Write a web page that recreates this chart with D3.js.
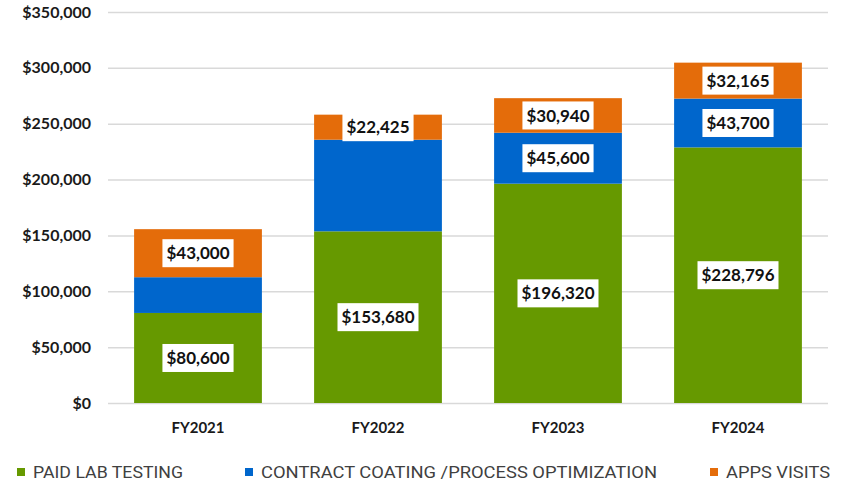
<!DOCTYPE html>
<html>
<head>
<meta charset="utf-8">
<script src="https://cdn.jsdelivr.net/npm/d3@7"></script>
<style>
  body { margin: 0; background: #fff; }
  svg { display: block; }
</style>
</head>
<body>
<div id="chart"></div>
<script>
var years = ['FY2021', 'FY2022', 'FY2023', 'FY2024'];
var seriesNames = ['PAID LAB TESTING', 'CONTRACT COATING /PROCESS OPTIMIZATION', 'APPS VISITS'];
var paidLab = [80600, 153680, 196320, 228796];
var contractCoating = [32000, 82000, 45600, 43700];
var appsVisits = [43000, 22425, 30940, 32165];
// which segments carry a value label in the original
var paidLabShown = [true, true, true, true];
var contractShown = [false, false, true, true];
var appsShown = [true, true, true, true];
var yTicks = [0, 50000, 100000, 150000, 200000, 250000, 300000, 350000];

var width = 842, height = 482;
var colors = ['#669900', '#0066CC', '#E46C0A'];
var margin = {left: 108, right: 14, top: 12, bottom: 79};

var svg = d3.select('#chart').append('svg')
  .attr('width', width)
  .attr('height', height);

var x = d3.scaleBand()
  .domain(years)
  .range([margin.left, width - margin.right])
  .paddingInner(0.29)
  .paddingOuter(0.145);

var y = d3.scaleLinear()
  .domain([0, 350000])
  .range([height - margin.bottom, margin.top]);

var fmt = function(v) { return '$' + d3.format(',')(v); };

// gridlines
svg.append('g')
  .selectAll('line')
  .data(yTicks)
  .enter().append('line')
  .attr('x1', margin.left)
  .attr('x2', width - margin.right)
  .attr('y1', function(d) { return y(d) + 0.5; })
  .attr('y2', function(d) { return y(d) + 0.5; })
  .attr('stroke', '#d9d9d9')
  .attr('stroke-width', 1.5);

// y labels
svg.append('g')
  .selectAll('text')
  .data(yTicks)
  .enter().append('text')
  .attr('x', 91)
  .attr('y', function(d) { return y(d); })
  .attr('dy', '0.35em')
  .attr('text-anchor', 'end')
  .attr('font-family', 'Lato, sans-serif')
  .attr('font-weight', 'bold')
  .attr('font-size', 16)
  .attr('fill', '#1a1a1a')
  .text(fmt);

// stacked data
var rows = years.map(function(yr, i) {
  return {year: yr, paid: paidLab[i], contract: contractCoating[i], apps: appsVisits[i]};
});
var shown = [paidLabShown, contractShown, appsShown];
var stack = d3.stack().keys(['paid', 'contract', 'apps']);
var layers = stack(rows);

var layerG = svg.selectAll('.layer')
  .data(layers)
  .enter().append('g')
  .attr('class', 'layer')
  .attr('fill', function(d, i) { return colors[i]; });

layerG.selectAll('rect')
  .data(function(d) { return d; })
  .enter().append('rect')
  .attr('x', function(d) { return x(d.data.year); })
  .attr('width', x.bandwidth())
  .attr('y', function(d) { return y(d[1]); })
  .attr('height', function(d) { return y(d[0]) - y(d[1]); });

// value labels
layers.forEach(function(layer, li) {
  layer.forEach(function(d, i) {
    if (!shown[li][i]) return;
    var cx = x(d.data.year) + x.bandwidth() / 2;
    var cy = (y(d[0]) + y(d[1])) / 2;
    var g = svg.append('g');
    var box = g.append('rect').attr('fill', '#fff');
    var t = g.append('text')
      .attr('x', cx)
      .attr('y', cy)
      .attr('dy', '0.36em')
      .attr('text-anchor', 'middle')
      .attr('font-family', 'Lato, sans-serif')
      .attr('font-weight', 'bold')
      .attr('font-size', 17)
      .attr('fill', '#111')
      .text(fmt(d[1] - d[0]));
    var w = t.node().getComputedTextLength() + 8;
    box.attr('x', cx - w / 2).attr('y', cy - 14).attr('width', w).attr('height', 28);
  });
});

// x labels
svg.append('g')
  .selectAll('text')
  .data(years)
  .enter().append('text')
  .attr('x', function(d) { return x(d) + x.bandwidth() / 2; })
  .attr('y', 428)
  .attr('dy', '0.35em')
  .attr('text-anchor', 'middle')
  .attr('font-family', 'Lato, sans-serif')
  .attr('font-weight', 'bold')
  .attr('font-size', 15)
  .attr('fill', '#1a1a1a')
  .text(function(d) { return d; });

// legend
var legendX = [17, 245, 710];
var legendW = [150, 396, 104];
var legend = svg.selectAll('.legend')
  .data(seriesNames)
  .enter().append('g')
  .attr('class', 'legend')
  .attr('transform', function(d, i) { return 'translate(' + legendX[i] + ',472)'; });
legend.append('rect')
  .attr('x', 0)
  .attr('y', -4)
  .attr('width', 8)
  .attr('height', 8)
  .attr('fill', function(d, i) { return colors[i]; });
legend.append('text')
  .attr('x', 16)
  .attr('y', 0)
  .attr('dy', '0.36em')
  .attr('font-family', 'Roboto, sans-serif')
  .attr('font-size', 16)
  .attr('textLength', function(d, i) { return legendW[i]; })
  .attr('lengthAdjust', 'spacingAndGlyphs')
  .attr('fill', '#404040')
  .text(function(d) { return d; });
</script>
</body>
</html>
